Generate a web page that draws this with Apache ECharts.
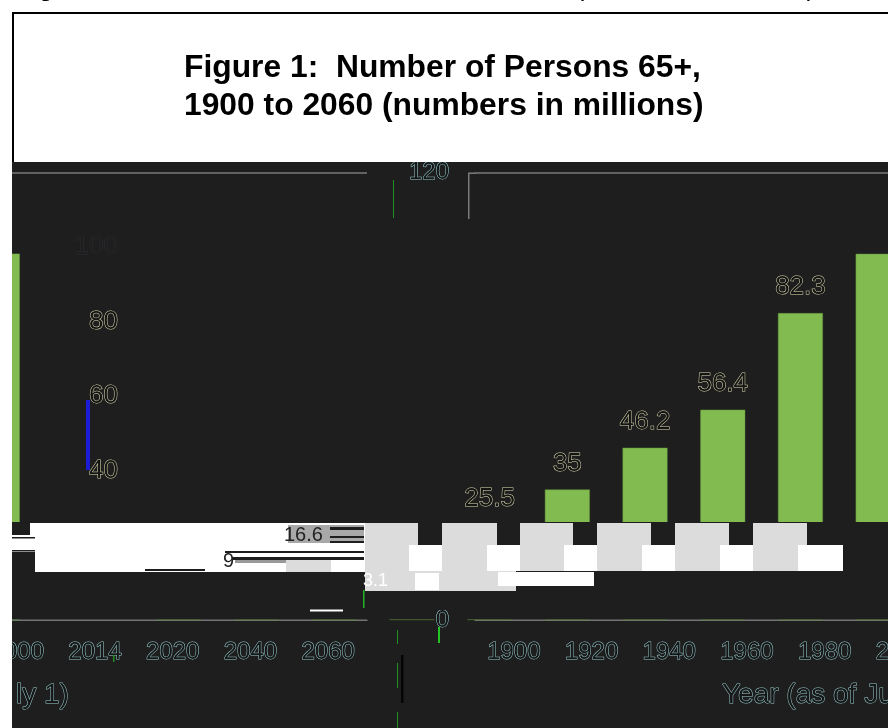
<!DOCTYPE html>
<html><head><meta charset="utf-8">
<style>html,body{margin:0;padding:0;background:#fff}#c{width:888px;height:728px}</style>
<script src="https://cdn.jsdelivr.net/npm/echarts@6/dist/echarts.min.js"></script>
</head><body><div id="c"></div>
<script>
const years = ['1900','1920','1940','1960','1980','2000','2014','2020','2040','2060'];
const persons = [3.1,4.9,9,16.6,25.5,35,46.2,56.4,82.3,98.2];
const titleText = 'Figure 1:  Number of Persons 65+,\n1900 to 2060 (numbers in millions)';
const captionText = 'Figure 1: Number of Persons 65+, 1900 to 2060 (numbers in millions)';
const axisName = 'Year (as of July 1)';

const DARK='#1e1e1e', GREEN='#82bc50', LINE='#7a7a7a', GREY='#dcdcdc', WHITE='#ffffff';
const FONT='"Liberation Sans",Arial,sans-serif';
const ghost={fontFamily:FONT,fontSize:26,color:'#141414',textBorderColor:'#dcdab0',textBorderWidth:1};
const ghostX={fontFamily:FONT,fontSize:24,color:'#161616',textBorderColor:'#96cacc',textBorderWidth:1};

function rect(x,y,w,h,fill,z){return {type:'rect',z:z||10,silent:true,shape:{x,y,width:w,height:h},style:{fill}};}
function text(str,x,y,st,z){return {type:'text',z:z||12,silent:true,x,y,style:Object.assign({text:str,font:'20px '+FONT,fill:'#161616'},st||{})};}

const art=[
  rect(0,0,888,162,WHITE,20), rect(0,0,12,728,WHITE,20),
  rect(12,12,876,2,'#000',21), rect(12,12,2,150,'#000',21),
  rect(12,522,424,97.5,DARK,10), rect(436,522,24,88,DARK,10), rect(460,522,428,97.5,DARK,10),
  rect(30,523,335,29,WHITE), rect(35,552,330,20,WHITE), rect(12,535,23,17,WHITE),
  rect(12,537,23,1.5,DARK,11), rect(12,550,23,1.5,DARK,11),
  rect(288,525,76,18,'#a8a8a8',11), rect(330,527,34,3,DARK,11), rect(330,536,34,2,DARK,11),rect(330,541,34,2,DARK,11),
  rect(225,551,139,2,DARK,11), rect(232,557,132,3,DARK,11), rect(235,560,51,3,'#999',11), rect(286,560,45,12,GREY,11),
  rect(145,569,60,2,DARK,11),
  ...[365,442,520,597,675,753].map((x,i)=>rect(x,523,[53,55,53,54,54,54][i],48,GREY)),
  ...[409,487,564,642,720,798].map((x,i)=>rect(x,545,[33,33,33,33,33,45][i],26,WHITE,11)),
  rect(365,571,151,20,GREY), rect(498,572,96,14,WHITE,11), rect(415,573,24,17,WHITE,11),
  rect(310,609.5,33,2,WHITE),
  rect(363,590,1.5,18,'#22b422'), rect(438,627,2,16,'#22c622',13),
  rect(86,400,4,70,'#1c1cd6',13), rect(401,655,2.5,48,'#050505',13),
  rect(393,180,1,38,'#1f8f1f',13), rect(397,630,1,14,'#1f8f1f',13), rect(397,663,1,25,'#1f8f1f',13), rect(397,712,1,16,'#1f8f1f',13),
  rect(113,655,1.5,7,'#1f8f1f',13),
  rect(468,173,1.5,46,LINE,13), rect(468,172.5,8,1.5,LINE,13),
  text('16.6',284,525,{font:'20px '+FONT,fill:'#222'},14),
  text('9',223,551,{font:'20px '+FONT,fill:'#222'},14),
  text('3.1',363,572,{font:'18px '+FONT,fill:'#ffffff'},14),
  text(axisName,722,681,{font:'28px '+FONT,fill:'#161616',stroke:'#96cacc',lineWidth:1},14),
  text('ly 1)',16,681,{font:'28px '+FONT,fill:'#161616',stroke:'#96cacc',lineWidth:1},14),
  text(captionText,17,-24,{font:'26px '+FONT,fill:'#000'},22),
];

const band=77.7, W=band*10;
const gridAt=l=>({left:l,width:W,top:172.5,height:447.5,outerBoundsMode:'none',containLabel:false});
const yHidden=g=>({type:'value',gridIndex:g,min:0,max:120,interval:120,
  axisLine:{show:false},axisTick:{show:false},axisLabel:{show:false},
  splitLine:{show:true,lineStyle:{color:LINE,width:1.5}}});
const xHidden=g=>({type:'category',gridIndex:g,data:years,axisLine:{show:false},axisTick:{show:false},axisLabel:{show:false}});
const xLabels=(g,keep)=>({type:'category',gridIndex:g,data:years,
  axisLine:{show:true,onZero:false,lineStyle:{color:LINE,width:1.5}},axisTick:{show:false},
  axisLabel:Object.assign({interval:(i)=>keep(i),margin:20,hideOverlap:false},ghostX)});

const option={
  backgroundColor:DARK, animation:false,
  title:{text:titleText,left:179,top:44,z:30,textStyle:{fontFamily:FONT,fontWeight:'bold',fontSize:31.8,lineHeight:38,color:'#000'}},
  grid:[gridAt(140),gridAt(475),gridAt(-410),gridAt(-741)],
  xAxis:[xHidden(0),xLabels(1,i=>i<=5),xLabels(2,i=>i>=5),xHidden(3)],
  yAxis:[
    {type:'value',gridIndex:0,min:0,max:120,interval:20,axisLine:{show:false},axisTick:{show:false},splitLine:{show:false},
     axisLabel:Object.assign({},ghost,{margin:22,
       color:'#141414',
       formatter:v=>(v===40||v===60||v===80)?String(v):(v===100?'{f|100}':''),
       rich:{f:{fontFamily:FONT,fontSize:26,color:'#1e1e1e',textBorderColor:'#3a3a4a',textBorderWidth:0.5}}})},
    {type:'value',gridIndex:1,min:0,max:120,interval:120,axisLine:{show:false},axisTick:{show:false},
     splitLine:{show:true,lineStyle:{color:LINE,width:1.5}},
     axisLabel:Object.assign({},ghostX,{margin:26})},
    yHidden(2),
    {type:'value',gridIndex:3,min:0,max:120,show:false}
  ],
  series:[
    {type:'bar',xAxisIndex:0,yAxisIndex:0,data:persons,barWidth:45,z:2,
     itemStyle:{color:GREEN,borderColor:'#5f8f3a',borderWidth:0.5},
     label:Object.assign({show:true,position:'top',distance:13,
       formatter:p=>(p.dataIndex<4||p.dataIndex===9)?'':String(p.value)},ghost)},
    {type:'bar',xAxisIndex:3,yAxisIndex:3,data:persons,barWidth:45,z:2,itemStyle:{color:GREEN},label:{show:false}}
  ],
  graphic:{elements:art}
};
echarts.init(document.getElementById('c'),null,{renderer:'canvas'}).setOption(option);
</script></body></html>
